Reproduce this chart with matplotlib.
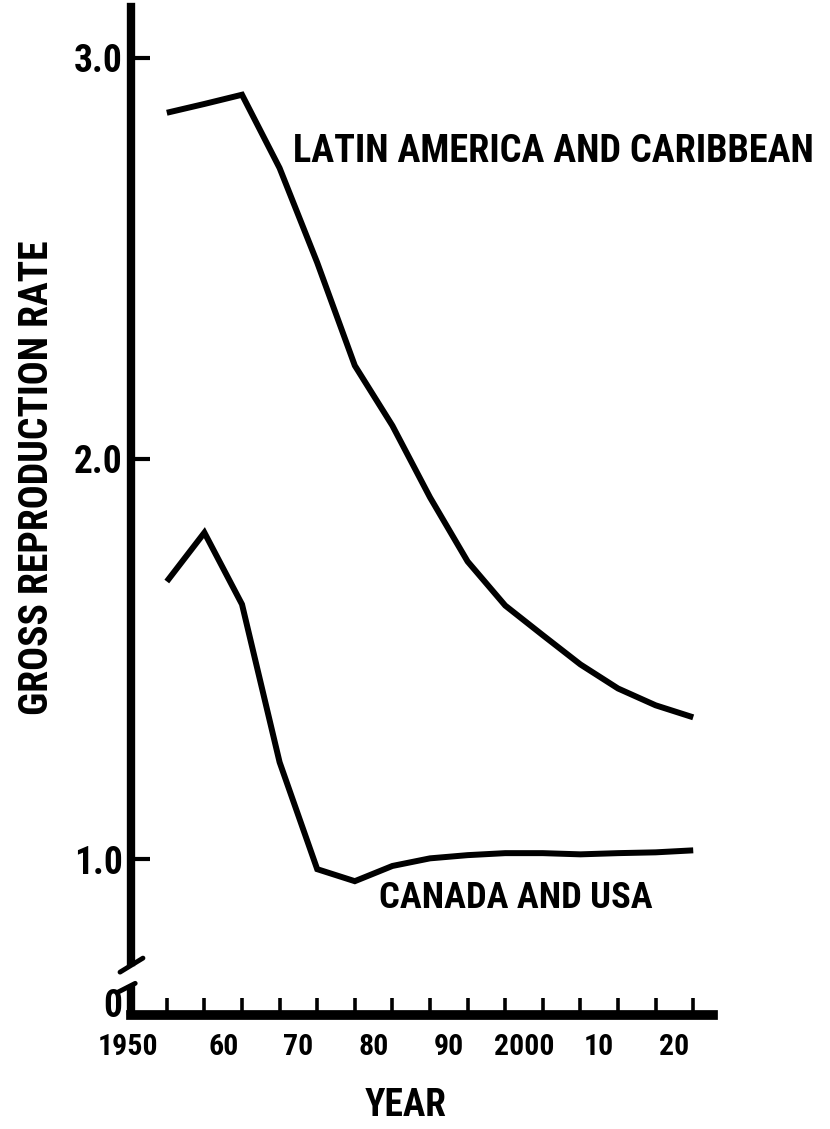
import matplotlib
matplotlib.use("Agg")
import matplotlib.pyplot as plt
import matplotlib.font_manager as fm
from matplotlib.transforms import ScaledTranslation

# ---------------- data ----------------
years = [1952.5, 1957.5, 1962.5, 1967.5, 1972.5, 1977.5, 1982.5, 1987.5,
         1992.5, 1997.5, 2002.5, 2007.5, 2012.5, 2017.5, 2022.5]
latin_america = [2.863, 2.885, 2.908, 2.725, 2.489, 2.232, 2.082, 1.903,
                 1.743, 1.633, 1.559, 1.486, 1.426, 1.384, 1.354]
canada_usa = [1.693, 1.815, 1.636, 1.242, 0.975, 0.945, 0.983, 1.002,
              1.010, 1.015, 1.015, 1.012, 1.015, 1.017, 1.022]
decade_years = [1950, 1960, 1970, 1980, 1990, 2000, 2010, 2020]
decade_labels = ["1950", "60", "70", "80", "90", "2000", "10", "20"]
y_values = [1.0, 2.0, 3.0]
y_labels = ["1.0", "2.0", "3.0"]

# ---------------- fonts ----------------
def pick_font():
    best = None
    for f in fm.fontManager.ttflist:
        if f.name != "Roboto Condensed" or f.style != "normal":
            continue
        try:
            w = int(f.weight)
        except (TypeError, ValueError):
            w = {"bold": 700, "normal": 400}.get(str(f.weight), 400)
        score = abs(w - 700)
        if best is None or score < best[0]:
            best = (score, f.fname)
    return best[1] if best else None

FONT_FILE = pick_font()


def fp(size):
    if FONT_FILE:
        return fm.FontProperties(fname=FONT_FILE, size=size)
    return fm.FontProperties(family="DejaVu Sans", weight="bold", size=size)

# ---------------- figure ----------------
W, H = 830, 1129
fig = plt.figure(figsize=(W / 100, H / 100), dpi=100)
ax = fig.add_axes([131 / W, 1 - 1015 / H, (713 - 131) / W, (1015 - 7) / H])

x_left, x_right = 1947.74, 2025.13
y_bottom, y_top = 0.611, 3.127
ax.set_xlim(x_left, x_right)
ax.set_ylim(y_bottom, y_top)

ax.plot(years, latin_america, color="black", lw=4.3, solid_joinstyle="miter",
        solid_capstyle="butt")
ax.plot(years, canada_usa, color="black", lw=4.3, solid_joinstyle="miter",
        solid_capstyle="butt")

for s in ["top", "right"]:
    ax.spines[s].set_visible(False)
ax.spines["left"].set_linewidth(6)
ax.spines["bottom"].set_linewidth(7)
ax.spines["left"].set_bounds(0.743, y_top)

# lower part of broken y axis and break marks
ax.plot([x_left, x_left], [y_bottom, 0.686], color="black", lw=6,
        clip_on=False, solid_capstyle="butt")
ax.plot([1946.28, 1949.33], [0.718, 0.753], color="black", lw=3.5,
        clip_on=False, solid_capstyle="round")
ax.plot([1945.9, 1948.3], [0.667, 0.690], color="black", lw=3.5,
        clip_on=False, solid_capstyle="round")

# x ticks: period midpoints, labels at decades
ax.set_xticks(years)
ax.set_xticklabels([])
ax.tick_params(axis="x", which="major", direction="in", length=12, width=2.6)
ax.set_xticks(decade_years, minor=True)
ax.set_xticklabels(decade_labels, minor=True, fontproperties=fp(21.5))
ax.tick_params(axis="x", which="minor", length=0, pad=13)
for lab in ax.get_xticklabels(minor=True):
    if lab.get_text() == "1950":
        lab.set_transform(lab.get_transform() +
                          ScaledTranslation(-0.2, 0, fig.dpi_scale_trans))

# y ticks
y0_pos = 0.641
ax.set_yticks([y0_pos] + y_values)
ax.set_yticklabels(["0"] + y_labels, fontproperties=fp(27))
ax.tick_params(axis="y", direction="in", length=14, width=3, pad=6)
ax.yaxis.get_major_ticks()[0].tick1line.set_visible(False)

# text
ax.text(1969.3, 2.766, "LATIN AMERICA AND CARIBBEAN", ha="left", va="center",
        fontproperties=fp(27.5))
ax.text(1998.9, 0.903, "CANADA AND USA", ha="center", va="center",
        fontproperties=fp(26.3))
fig.text(37 / W, 1 - 478 / H, "GROSS REPRODUCTION RATE", rotation=90,
         ha="center", va="center", fontproperties=fp(28.5))
fig.text(406 / W, 1 - 1105 / H, "YEAR", ha="center", va="center",
         fontproperties=fp(27))

fig.savefig("out.png", dpi=100)
